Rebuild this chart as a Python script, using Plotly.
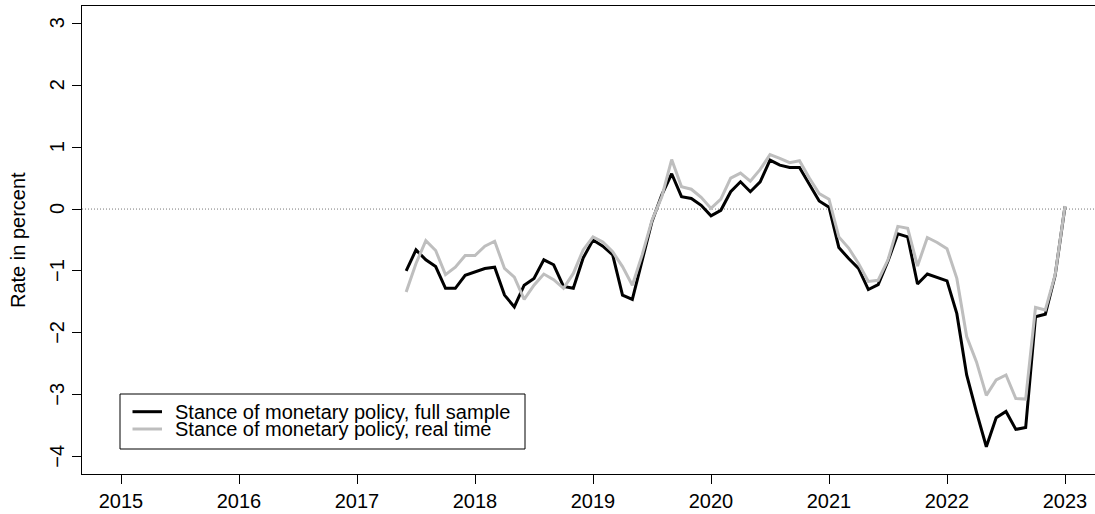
import pandas as pd
import plotly.graph_objects as go

# Monthly observations, June 2017 - January 2023
months = pd.date_range("2017-06-01", "2023-01-01", freq="MS")

# Stance of monetary policy, full sample estimate (percent)
stance_full = [
    -1.00, -0.66, -0.82, -0.93, -1.28, -1.28, -1.07, -1.01, -0.96, -0.94,
    -1.39, -1.58, -1.23, -1.12, -0.82, -0.90, -1.25, -1.28,
    -0.79, -0.50, -0.60, -0.74, -1.39, -1.46, -0.82, -0.20, 0.23, 0.57,
    0.20, 0.17, 0.06, -0.11, -0.02, 0.28,
    0.44, 0.28, 0.44, 0.79, 0.71, 0.67, 0.67, 0.39, 0.13, 0.03,
    -0.62, -0.80, -0.96, -1.30, -1.22, -0.84, -0.40, -0.45, -1.21, -1.05,
    -1.10, -1.16, -1.69, -2.68, -3.28, -3.84, -3.37, -3.27, -3.56, -3.53,
    -1.74, -1.70, -1.07, 0.04,
]

# Stance of monetary policy, real-time estimate (percent)
stance_realtime = [
    -1.34, -0.88, -0.51, -0.67, -1.06, -0.94, -0.75, -0.75, -0.60, -0.52,
    -0.96, -1.10, -1.46, -1.23, -1.05, -1.14, -1.28, -1.04,
    -0.66, -0.45, -0.53, -0.69, -0.93, -1.23, -0.74, -0.18, 0.20, 0.80,
    0.36, 0.32, 0.19, 0.01, 0.16, 0.50,
    0.58, 0.45, 0.64, 0.88, 0.82, 0.75, 0.78, 0.50, 0.25, 0.16,
    -0.45, -0.63, -0.88, -1.17, -1.15, -0.82, -0.28, -0.31, -0.92, -0.46,
    -0.54, -0.64, -1.12, -2.06, -2.47, -3.01, -2.76, -2.68, -3.06, -3.07,
    -1.59, -1.63, -1.06, 0.05,
]

series_names = [
    "Stance of monetary policy, full sample",
    "Stance of monetary policy, real time",
]
series_colors = ["#000000", "#BEBEBE"]

x_ticks = list(range(2015, 2024))
y_ticks = list(range(-4, 4))

# time axis as decimal years
t = [m.year + (m.month - 1) / 12 for m in months]

FONT = "Liberation Sans, Arial, Helvetica, sans-serif"
FS = 20

W, H = 1095, 514
L, R, T, B = 82, 0, 6, 40
PW, PH = W - L - R, H - T - B


def px(xp):
    return (xp - L) / PW


def py(yp):
    return (H - B - yp) / PH


fig = go.Figure()
for vals, name, col in zip([stance_full, stance_realtime], series_names, series_colors):
    fig.add_trace(go.Scatter(
        x=t, y=vals, mode="lines", name=name,
        line=dict(color=col, width=3), showlegend=False,
    ))

shapes = [
    # dotted zero line across the panel
    dict(type="line", xref="paper", yref="y", x0=0, x1=1, y0=0, y1=0,
         line=dict(color="#777777", width=1, dash="1px,2px"), layer="below"),
    # legend frame
    dict(type="rect", xref="paper", yref="paper",
         x0=px(120), x1=px(525), y0=py(449), y1=py(394),
         line=dict(color="#000000", width=1), fillcolor="white"),
]
annotations = []
for k, (name, col) in enumerate(zip(series_names, series_colors)):
    yy = [411.7, 429.0][k]
    shapes.append(dict(type="line", xref="paper", yref="paper",
                       x0=px(132.5), x1=px(162), y0=py(yy), y1=py(yy),
                       line=dict(color=col, width=3)))
    annotations.append(dict(xref="paper", yref="paper", x=px(174), y=py(yy),
                            xanchor="left", yanchor="middle", showarrow=False,
                            text=name, font=dict(family=FONT, size=FS, color="black"),
                            borderpad=0))

# y tick labels, rotated, set parallel to the axis
for v in y_ticks:
    annotations.append(dict(xref="paper", yref="y", x=px(57), y=v,
                            xanchor="center", yanchor="middle", showarrow=False,
                            text=str(v).replace("-", "\u2212"), textangle=-90,
                            font=dict(family=FONT, size=FS, color="black"),
                            borderpad=0))

# y-axis title
annotations.append(dict(xref="paper", yref="paper", x=px(18), y=py(240),
                        xanchor="center", yanchor="middle", showarrow=False,
                        text="Rate in percent", textangle=-90,
                        font=dict(family=FONT, size=FS, color="black")))

fig.update_layout(
    width=W, height=H,
    margin=dict(l=L, r=R, t=T, b=B, pad=0),
    paper_bgcolor="white", plot_bgcolor="white",
    font=dict(family=FONT, size=FS, color="black"),
    shapes=shapes, annotations=annotations,
    showlegend=False,
)
fig.update_xaxes(
    range=[2015 - 39 / 118, 2023 + 30 / 118],
    tickvals=x_ticks, ticktext=[str(v) for v in x_ticks],
    ticks="outside", ticklen=9, tickwidth=1, tickcolor="black",
    showline=True, mirror=True, linecolor="black", linewidth=1,
    showgrid=False, zeroline=False,
)
fig.update_yaxes(
    range=[-4.28, 3.28],
    tickvals=y_ticks, showticklabels=False,
    ticks="outside", ticklen=9, tickwidth=1, tickcolor="black",
    showline=True, mirror=False, linecolor="black", linewidth=1,
    showgrid=False, zeroline=False,
)

fig.write_html("out.html")
